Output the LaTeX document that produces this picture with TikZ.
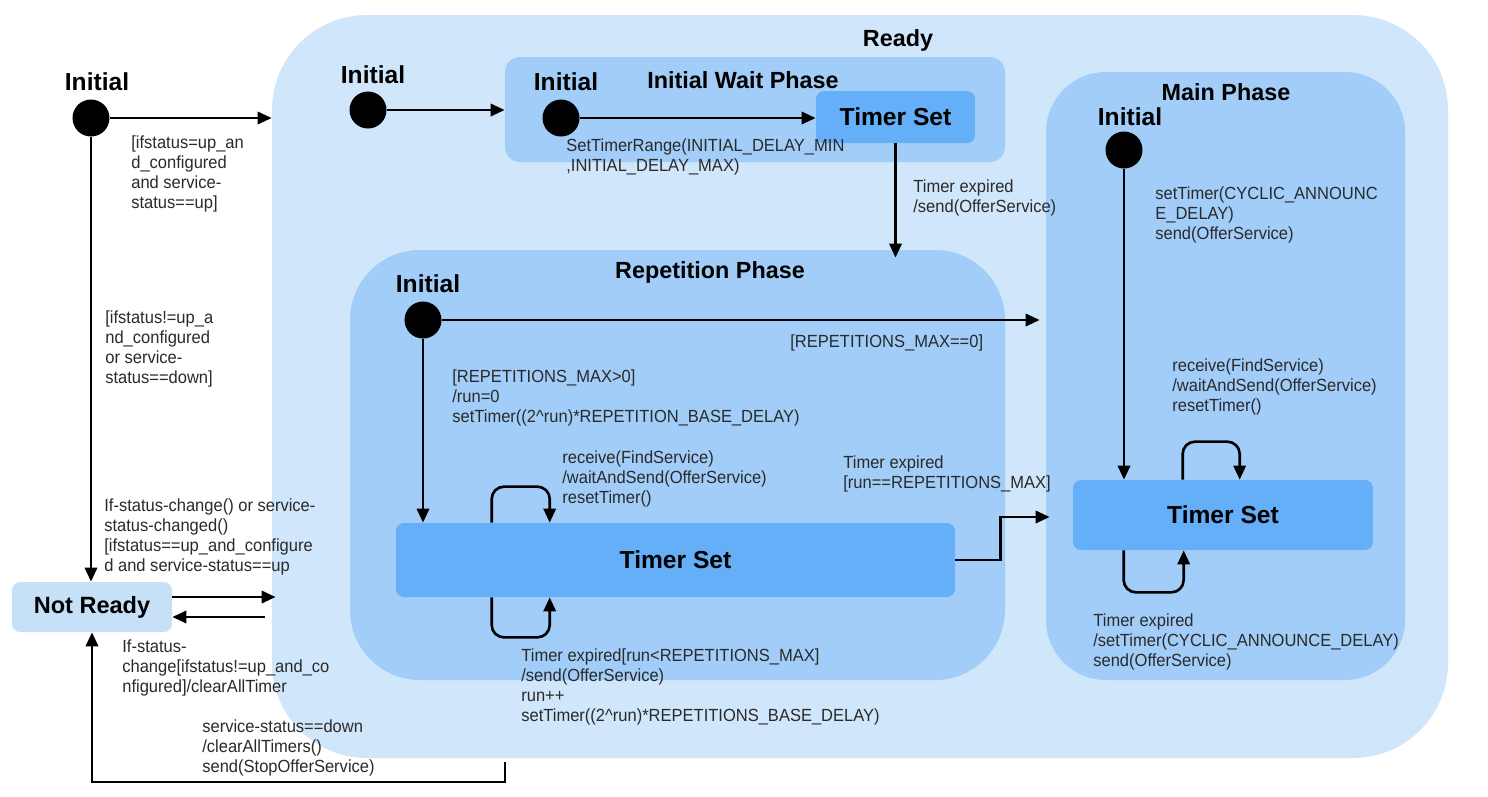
\documentclass[tikz,border=0pt]{standalone}
\usepackage{fontspec}
\setmainfont{Liberation Sans}
\newfontfamily\lblfont[FakeStretch=0.94]{Liberation Sans}
\usetikzlibrary{arrows.meta,calc,fit}
\definecolor{readyfill}{HTML}{CFE6FB}
\definecolor{phasefill}{HTML}{A1CDF8}
\definecolor{tsfill}{HTML}{64AFF7}
\definecolor{nrfill}{HTML}{C6E0F8}
\definecolor{txtgray}{HTML}{2A2A2A}
\begin{document}
\begin{tikzpicture}[x=0.02cm,y=-0.02cm,
  lbl/.style={anchor=north west, inner sep=0, align=left, text=txtgray,
    font=\lblfont\fontsize{10}{11.4}\selectfont},
  bold/.style={inner sep=0, font=\fontsize{14}{16}\selectfont\bfseries, text=black},
  phlbl/.style={bold, font=\fontsize{13.3}{16}\selectfont\bfseries},
  phase/.style={inner sep=0, fill=phasefill},
  tsbox/.style={fill=tsfill, rounded corners=0.16cm, inner sep=0,
    font=\fontsize{14}{16}\selectfont\bfseries},
  dot/.style={circle, fill=black, inner sep=0, minimum size=0.74cm},
  arr/.style={draw=black, line width=1.5pt, -{Triangle[length=8pt,width=7pt]}},
  loop/.style={arr, rounded corners=7pt}
]
\useasboundingbox (0,0) rectangle (1488,796);
\fill[white] (0,0) rectangle (1488,796);

% containers
\node[fit={(272,15)(1448,758)}, inner sep=0, fill=readyfill, rounded corners=1.9cm] (ready) {};
\node[phase, fit={(505,57)(1005,162)}, rounded corners=0.3cm] (iwp) {};
\node[phase, fit={(350,250)(1005,680)}, rounded corners=1.4cm] (rep) {};
\node[phase, fit={(1046,72)(1405,680)}, rounded corners=1.2cm] (main) {};

% states
\node[tsbox, minimum width=3.18cm, minimum height=1.04cm] (ts1) at (895.5,117) {Timer Set};
\node[tsbox, minimum width=11.18cm, minimum height=1.48cm] (ts2) at (675.5,560) {Timer Set};
\node[tsbox, minimum width=6cm, minimum height=1.4cm] (ts3) at (1223,515) {Timer Set};
\node[fill=nrfill, rounded corners=0.16cm, inner sep=0, minimum width=3.2cm, minimum height=1cm,
  font=\fontsize{13.4}{16}\selectfont\bfseries] (notready) at (92,607) {Not Ready};

% bold labels
\node[phlbl] (lready) at (898,40) {Ready};
\node[bold] (lini0) at (97,82) {Initial};
\node[bold] (lini1) at (373,75) {Initial};
\node[bold] (lini2) at (566,82) {Initial};
\node[phlbl] (liwp) at (743,80) {Initial Wait Phase};
\node[phlbl] (lmain) at (1226,92) {Main Phase};
\node[bold] (lini3) at (1130,117) {Initial};
\node[phlbl] (lrep) at (710,272) {Repetition Phase};
\node[bold] (lini4) at (428,284) {Initial};

% initial dots
\node[dot] (i0) at (91,118) {};
\node[dot] (r0) at (368,110) {};
\node[dot] (w0) at (561,118) {};
\node[dot] (p0) at (423,320) {};
\node[dot] (m0) at (1124,150) {};

% helper coordinates
\coordinate (nrback) at (265,617);
\coordinate (rb) at (505,762);
\coordinate (m517) at (0,517);

% connectors
\draw[arr] (i0) -- (i0 -| ready.west);
\draw[arr] (i0) -- (i0 |- notready.north);
\draw[arr] ($(notready.east)+(0,-10)$) -- ($(notready.east -| ready.west)+(4,-10)$);
\draw[arr] (nrback) -- (nrback -| notready.east);
\draw[arr] (rb) -- (505,782) -| (notready.south);
\draw[arr] (r0) -- (r0 -| iwp.west);
\draw[arr] (w0) -- (w0 -| ts1.west);
\draw[arr] (ts1.south) -- ($(ts1.south |- rep.north)+(0,8)$);
\draw[arr] (p0) -- ($(p0 -| main.west)+(-6,0)$);
\draw[arr] (p0) -- (p0 |- ts2.north);
\draw[loop] ($(ts2.north west)+(96,0)$) -- ++(0,-36) -| ($(ts2.north west)+(154,0)$);
\draw[loop] ($(ts2.south west)+(96,0)$) -- ++(0,40) -| ($(ts2.south west)+(154,0)$);
\draw[arr] (ts2.east) -- ++(45,0) |- ($(main.west |- m517)+(4,0)$);
\draw[arr] (m0) -- (m0 |- ts3.north);
\draw[loop] ($(ts3.north west)+(110,0)$) -- ++(0,-38) -| ($(ts3.north west)+(167,0)$);
\draw[loop] ($(ts3.south west)+(51,0)$) -- ++(0,42) -| ($(ts3.south west)+(111,0)$);

% transition labels
\node[lbl] (t1) at (131,135) {[ifstatus=up\_an\\d\_configured\\and service-\\status==up]};
\node[lbl] (t2) at (105,310) {[ifstatus!=up\_a\\nd\_configured\\or service-\\status==down]};
\node[lbl] (t3) at (104,498) {If-status-change() or service-\\status-changed()\\{[}ifstatus==up\_and\_configure\\d and service-status==up};
\node[lbl] (t4) at (122,639) {If-status-\\change[ifstatus!=up\_and\_co\\nfigured]/clearAllTimer};
\node[lbl] (t5) at (202,719) {service-status==down\\/clearAllTimers()\\send(StopOfferService)};
\node[lbl] (t6) at (566,138) {SetTimerRange(INITIAL\_DELAY\_MIN\\,INITIAL\_DELAY\_MAX)};
\node[lbl] (t7) at (913,179) {Timer expired\\/send(OfferService)};
\node[lbl] (t8) at (790,334) {[REPETITIONS\_MAX==0]};
\node[lbl] (t9) at (452,369) {[REPETITIONS\_MAX>0]\\/run=0\\setTimer((2\textasciicircum run)*REPETITION\_BASE\_DELAY)};
\node[lbl] (t10) at (562,450) {receive(FindService)\\/waitAndSend(OfferService)\\resetTimer()};
\node[lbl] (t11) at (843,455) {Timer expired\\{[}run==REPETITIONS\_MAX]};
\node[lbl] (t12) at (521,648) {Timer expired[run<REPETITIONS\_MAX]\\/send(OfferService)\\run++\\setTimer((2\textasciicircum run)*REPETITIONS\_BASE\_DELAY)};
\node[lbl] (t13) at (1155,186) {setTimer(CYCLIC\_ANNOUNC\\E\_DELAY)\\send(OfferService)};
\node[lbl] (t14) at (1172,358) {receive(FindService)\\/waitAndSend(OfferService)\\resetTimer()};
\node[lbl] (t15) at (1093,613) {Timer expired\\/setTimer(CYCLIC\_ANNOUNCE\_DELAY)\\send(OfferService)};
\end{tikzpicture}
\end{document}
